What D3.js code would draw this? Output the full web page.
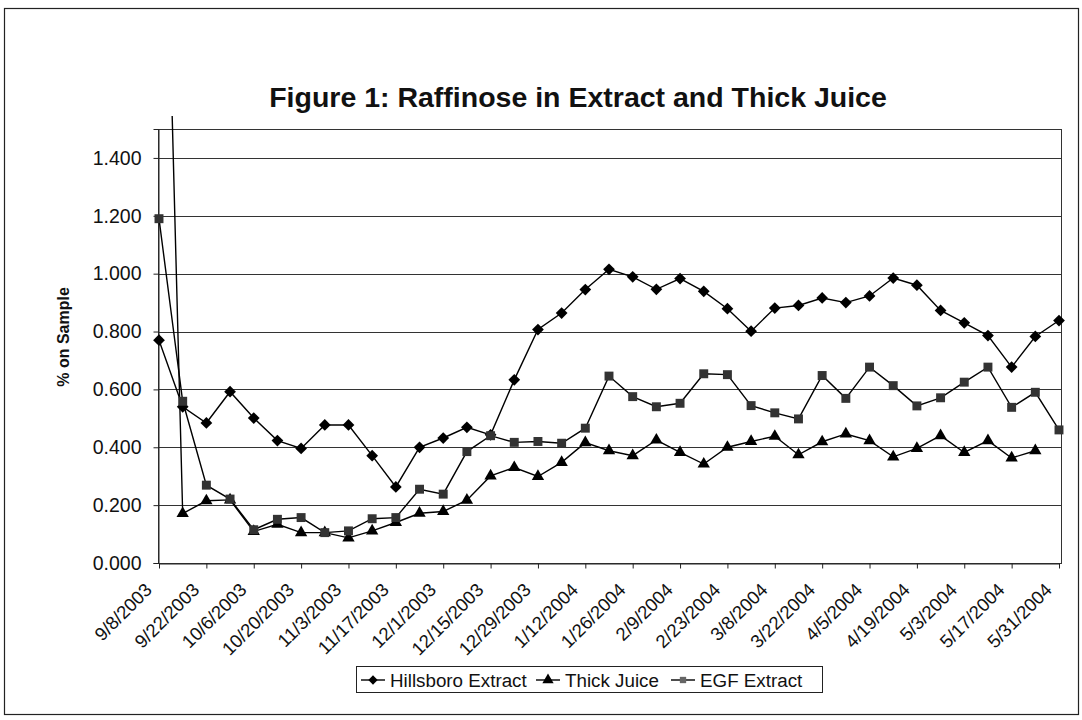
<!DOCTYPE html>
<html>
<head>
<meta charset="utf-8">
<script src="https://cdn.jsdelivr.net/npm/d3@7/dist/d3.min.js"></script>
<style>
  html, body { margin: 0; padding: 0; background: #fff; }
  svg { display: block; font-family: "Liberation Sans", Arial, sans-serif; }
</style>
</head>
<body>
<svg id="chart" width="1082" height="720"></svg>
<script>
// Weekly sampling dates
const dates = [
  "9/8/2003", "9/15/2003", "9/22/2003", "9/29/2003", "10/6/2003", "10/13/2003",
  "10/20/2003", "10/27/2003", "11/3/2003", "11/10/2003", "11/17/2003", "11/24/2003",
  "12/1/2003", "12/8/2003", "12/15/2003", "12/22/2003", "12/29/2003",
  "1/5/2004", "1/12/2004", "1/19/2004", "1/26/2004", "2/2/2004", "2/9/2004",
  "2/16/2004", "2/23/2004", "3/1/2004", "3/8/2004", "3/15/2004", "3/22/2004",
  "3/29/2004", "4/5/2004", "4/12/2004", "4/19/2004", "4/26/2004", "5/3/2004",
  "5/10/2004", "5/17/2004", "5/24/2004", "5/31/2004"
];

// % raffinose on sample
const hillsboroExtract = [
  0.770, 0.540, 0.484, 0.592, 0.501, 0.423, 0.396, 0.477, 0.477, 0.371,
  0.263, 0.400, 0.432, 0.469, 0.443, 0.633, 0.807, 0.864, 0.945, 1.015,
  0.989, 0.946, 0.983, 0.939, 0.879, 0.801, 0.881, 0.890, 0.916, 0.900,
  0.923, 0.985, 0.960, 0.873, 0.830, 0.786, 0.677, 0.783, 0.838
];
const thickJuice = [
  3.270, 0.171, 0.215, 0.218, 0.109, 0.134, 0.105, 0.105, 0.087, 0.111,
  0.140, 0.172, 0.178, 0.217, 0.301, 0.330, 0.299, 0.348, 0.416, 0.388,
  0.371, 0.425, 0.382, 0.342, 0.400, 0.420, 0.438, 0.374, 0.419, 0.446,
  0.423, 0.367, 0.396, 0.440, 0.382, 0.423, 0.363, 0.388, null
];
const egfExtract = [
  1.190, 0.559, 0.269, 0.221, 0.115, 0.151, 0.157, 0.105, 0.111, 0.153,
  0.157, 0.255, 0.238, 0.385, 0.440, 0.417, 0.420, 0.414, 0.466, 0.646,
  0.575, 0.540, 0.552, 0.654, 0.651, 0.544, 0.519, 0.498, 0.648, 0.569,
  0.677, 0.613, 0.543, 0.571, 0.625, 0.677, 0.538, 0.590, 0.460
];

// Axis ticks
const xTickLabels = [
  "9/8/2003", "9/22/2003", "10/6/2003", "10/20/2003", "11/3/2003", "11/17/2003",
  "12/1/2003", "12/15/2003", "12/29/2003", "1/12/2004", "1/26/2004", "2/9/2004",
  "2/23/2004", "3/8/2004", "3/22/2004", "4/5/2004", "4/19/2004", "5/3/2004",
  "5/17/2004", "5/31/2004"
];
const yTicks = [0, 0.2, 0.4, 0.6, 0.8, 1.0, 1.2, 1.4];
const yMax = 1.5;

const seriesNames = ["Hillsboro Extract", "Thick Juice", "EGF Extract"];

const parse = d3.timeParse("%m/%d/%Y");
const fmt = d => (d.getMonth() + 1) + "/" + d.getDate() + "/" + d.getFullYear();

const svg = d3.select("#chart");
const W = 1082, H = 720;
const plot = { left: 158, right: 1061, top: 129, bottom: 563 };
const FONT = "Liberation Sans, Arial, sans-serif";

// outer frame
svg.append("rect")
  .attr("x", 4.5).attr("y", 8.5).attr("width", W - 8).attr("height", H - 14)
  .attr("fill", "none").attr("stroke", "#222").attr("stroke-width", 1.2);

const x = d3.scaleTime()
  .domain([parse(dates[0]), parse(dates[dates.length - 1])])
  .range([plot.left + 1, plot.right - 2]);
const y = d3.scaleLinear().domain([0, yMax]).range([plot.bottom, plot.top]);

// title
svg.append("text")
  .attr("x", 578).attr("y", 107)
  .attr("text-anchor", "middle")
  .attr("font-size", 28.5).attr("font-weight", "bold").attr("fill", "#111")
  .text("Figure 1: Raffinose in Extract and Thick Juice");

// gridlines
svg.append("g").selectAll("line").data(yTicks.filter(d => d > 0)).join("line")
  .attr("x1", plot.left).attr("x2", plot.right)
  .attr("y1", d => Math.round(y(d)) + 0.5).attr("y2", d => Math.round(y(d)) + 0.5)
  .attr("stroke", "#333").attr("stroke-width", 1);

// plot border
svg.append("rect")
  .attr("x", plot.left + 0.5).attr("y", plot.top + 0.5)
  .attr("width", plot.right - plot.left).attr("height", plot.bottom - plot.top)
  .attr("fill", "none").attr("stroke", "#333").attr("stroke-width", 1);

// y axis
const yAxis = svg.append("g")
  .attr("transform", `translate(${plot.left + 0.5},0)`)
  .call(d3.axisLeft(y).tickValues(yTicks).tickFormat(d3.format(".3f")).tickSize(5).tickPadding(12));
yAxis.select(".domain").attr("stroke", "#222");
yAxis.selectAll(".tick line").attr("stroke", "#222");
yAxis.selectAll("text").attr("font-size", 19.5).attr("fill", "#111").attr("font-family", FONT);

// x axis
const xAxis = svg.append("g")
  .attr("transform", `translate(0,${plot.bottom + 0.5})`)
  .call(d3.axisBottom(x).tickValues(xTickLabels.map(parse)).tickFormat(fmt).tickSize(5).tickSizeOuter(0));
xAxis.select(".domain").attr("stroke", "#222");
xAxis.selectAll(".tick line").attr("stroke", "#222");
xAxis.selectAll("text")
  .attr("font-size", 18.5).attr("fill", "#111").attr("font-family", FONT)
  .attr("text-anchor", "end")
  .attr("dy", "0.35em").attr("y", 0)
  .attr("transform", "translate(-11,23) rotate(-45)");

// y axis title
svg.append("text")
  .attr("transform", `translate(69,337) rotate(-90)`)
  .attr("text-anchor", "middle")
  .attr("font-size", 16).attr("font-weight", "bold").attr("fill", "#111")
  .text("% on Sample");

// series
const rows = dates.map((d, i) => ({
  date: parse(d),
  v: [hillsboroExtract[i], thickJuice[i], egfExtract[i]]
}));
const markerFill = ["#000", "#000", "#333"];
const symbols = [d3.symbolDiamond2, d3.symbolTriangle, d3.symbolSquare];
const symSize = [88, 66, 80];

svg.append("defs").append("clipPath").attr("id", "lineclip")
  .append("rect")
  .attr("x", plot.left - 10).attr("y", plot.top - 13)
  .attr("width", plot.right - plot.left + 20).attr("height", plot.bottom - plot.top + 13);

[0, 1, 2].forEach(s => {
  const pts = rows.filter(r => r.v[s] != null);
  const line = d3.line().x(r => x(r.date)).y(r => y(r.v[s]));
  svg.append("path")
    .datum(pts)
    .attr("d", line)
    .attr("fill", "none").attr("stroke", "#000").attr("stroke-width", 1.4)
    .attr("clip-path", "url(#lineclip)");
});

[0, 1, 2].forEach(s => {
  const pts = rows.filter(r => r.v[s] != null && r.v[s] <= yMax);
  svg.append("g").selectAll("path").data(pts).join("path")
    .attr("transform", r => `translate(${x(r.date)},${y(r.v[s])})`)
    .attr("d", d3.symbol().type(symbols[s]).size(symSize[s]))
    .attr("fill", markerFill[s]).attr("stroke", "none");
});

// legend
const lg = svg.append("g");
lg.append("rect")
  .attr("x", 356.5).attr("y", 666.5).attr("width", 466).attr("height", 26)
  .attr("fill", "#fff").attr("stroke", "#222").attr("stroke-width", 1);
const legendX = [361, 536, 671];
const legendFill = ["#000", "#000", "#666"];
seriesNames.forEach((name, s) => {
  const gx = legendX[s], gy = 680;
  lg.append("line")
    .attr("x1", gx).attr("x2", gx + 24).attr("y1", gy).attr("y2", gy)
    .attr("stroke", "#000").attr("stroke-width", 1.4);
  lg.append("path")
    .attr("transform", `translate(${gx + 12},${gy})`)
    .attr("d", d3.symbol().type(symbols[s]).size(s === 2 ? 40 : 55))
    .attr("fill", legendFill[s]);
  lg.append("text")
    .attr("x", gx + 29).attr("y", gy).attr("dy", "0.36em")
    .attr("font-size", 18.8).attr("fill", "#111").attr("font-family", FONT)
    .text(name);
});
</script>
</body>
</html>
